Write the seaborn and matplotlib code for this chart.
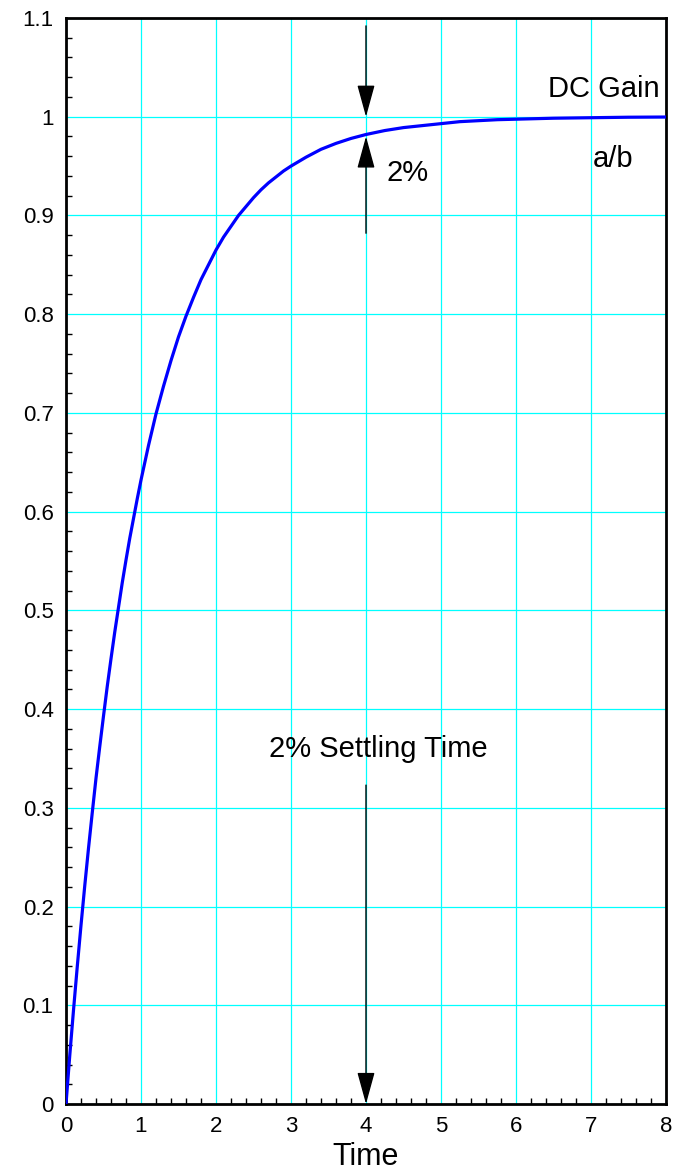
import matplotlib
matplotlib.use("Agg")
import matplotlib.pyplot as plt
import numpy as np
import pandas as pd
import seaborn as sns

# Step response of a first-order system, read at sample times
time_s = [0.0, 0.05, 0.1, 0.15, 0.2, 0.25, 0.3, 0.35, 0.4, 0.45, 0.5, 0.55, 0.6,
          0.65, 0.7, 0.75, 0.8, 0.85, 0.9, 0.95, 1.0, 1.1, 1.2, 1.3, 1.4, 1.5,
          1.6, 1.7, 1.8, 1.9, 2.0, 2.1, 2.2, 2.3, 2.4, 2.5, 2.6, 2.7, 2.8, 2.9,
          3.0, 3.2, 3.4, 3.6, 3.8, 4.0, 4.25, 4.5, 4.75, 5.0, 5.25, 5.5, 5.75,
          6.0, 6.5, 7.0, 7.5, 8.0]
response = [0.0, 0.049, 0.095, 0.139, 0.181, 0.221, 0.259, 0.295, 0.330, 0.362,
            0.393, 0.423, 0.451, 0.478, 0.503, 0.528, 0.551, 0.573, 0.593, 0.613,
            0.632, 0.667, 0.699, 0.727, 0.753, 0.777, 0.798, 0.817, 0.835, 0.850,
            0.865, 0.878, 0.889, 0.900, 0.909, 0.918, 0.926, 0.933, 0.939, 0.945,
            0.950, 0.959, 0.967, 0.973, 0.978, 0.982, 0.986, 0.989, 0.991, 0.993,
            0.995, 0.996, 0.997, 0.9975, 0.9985, 0.999, 0.9995, 0.9997]

x_ticks = [0, 1, 2, 3, 4, 5, 6, 7, 8]
y_ticks = [0, 0.1, 0.2, 0.3, 0.4, 0.5, 0.6, 0.7, 0.8, 0.9, 1.0, 1.1]
y_tick_labels = ["0", "0.1", "0.2", "0.3", "0.4", "0.5", "0.6", "0.7", "0.8",
                 "0.9", "1", "1.1"]

settling_time = 4.0
dc_gain = 1.0
band_edge = 0.98

sns.set_style("white")
plt.rcParams["font.family"] = ["Liberation Sans", "DejaVu Sans"]
plt.rcParams["text.color"] = "black"
plt.rcParams["axes.labelcolor"] = "black"
plt.rcParams["xtick.color"] = "black"
plt.rcParams["ytick.color"] = "black"

df = pd.DataFrame({"Time": time_s, "y": response})

fig = plt.figure(figsize=(6.85, 11.71), dpi=100)
ax = fig.add_axes([66 / 685, 67 / 1171, 600 / 685, 1086 / 1171])

ax.set_axisbelow(True)
ax.grid(True, which="major", color="#00ffff", linewidth=0.9)

sns.lineplot(data=df, x="Time", y="y", ax=ax, color="#0000ff", linewidth=2.3,
             zorder=3)

ax.set_xlim(0, 8)
ax.set_ylim(0, 1.1)
ax.set_xticks(x_ticks)
ax.set_xticklabels([str(v) for v in x_ticks])
ax.set_yticks(y_ticks)
ax.set_yticklabels(y_tick_labels)
ax.set_xticks(np.arange(0, 8.01, 0.2), minor=True)
ax.set_yticks(np.arange(0, 1.1001, 0.02), minor=True)
ax.tick_params(which="major", length=0, labelsize=16, colors="black", pad=9)
ax.tick_params(which="minor", direction="in", length=4.5, width=1.0,
               color="black", bottom=True, left=True, top=False, right=False)
ax.set_xlabel("Time", fontsize=22, labelpad=3, color="black")
ax.set_ylabel("")

for sp in ax.spines.values():
    sp.set_visible(True)
    sp.set_color("black")
    sp.set_linewidth(2.0)

arrow = dict(arrowstyle="-|>,head_length=2.0,head_width=0.55", mutation_scale=10,
             color="black", linewidth=1.0, shrinkA=0, shrinkB=0)

# Arrows marking the 2% band around the final value
ax.annotate("", xy=(settling_time, dc_gain), xytext=(settling_time, 1.092),
            arrowprops=arrow, zorder=4)
ax.annotate("", xy=(settling_time, band_edge), xytext=(settling_time, 0.882),
            arrowprops=arrow, zorder=4)
# Arrow down to the settling time on the time axis
ax.annotate("", xy=(settling_time, 0.0), xytext=(settling_time, 0.323),
            arrowprops=arrow, zorder=4, annotation_clip=False)

ax.text(4.28, 0.943, "2%", fontsize=21, ha="left", va="center", color="black")
ax.text(7.91, 1.028, "DC Gain", fontsize=21, ha="right", va="center", color="black")
ax.text(7.29, 0.957, "a/b", fontsize=21, ha="center", va="center", color="black")
ax.text(4.17, 0.36, "2% Settling Time", fontsize=21, ha="center", va="center",
        color="black")

fig.savefig("out.png", dpi=100)
